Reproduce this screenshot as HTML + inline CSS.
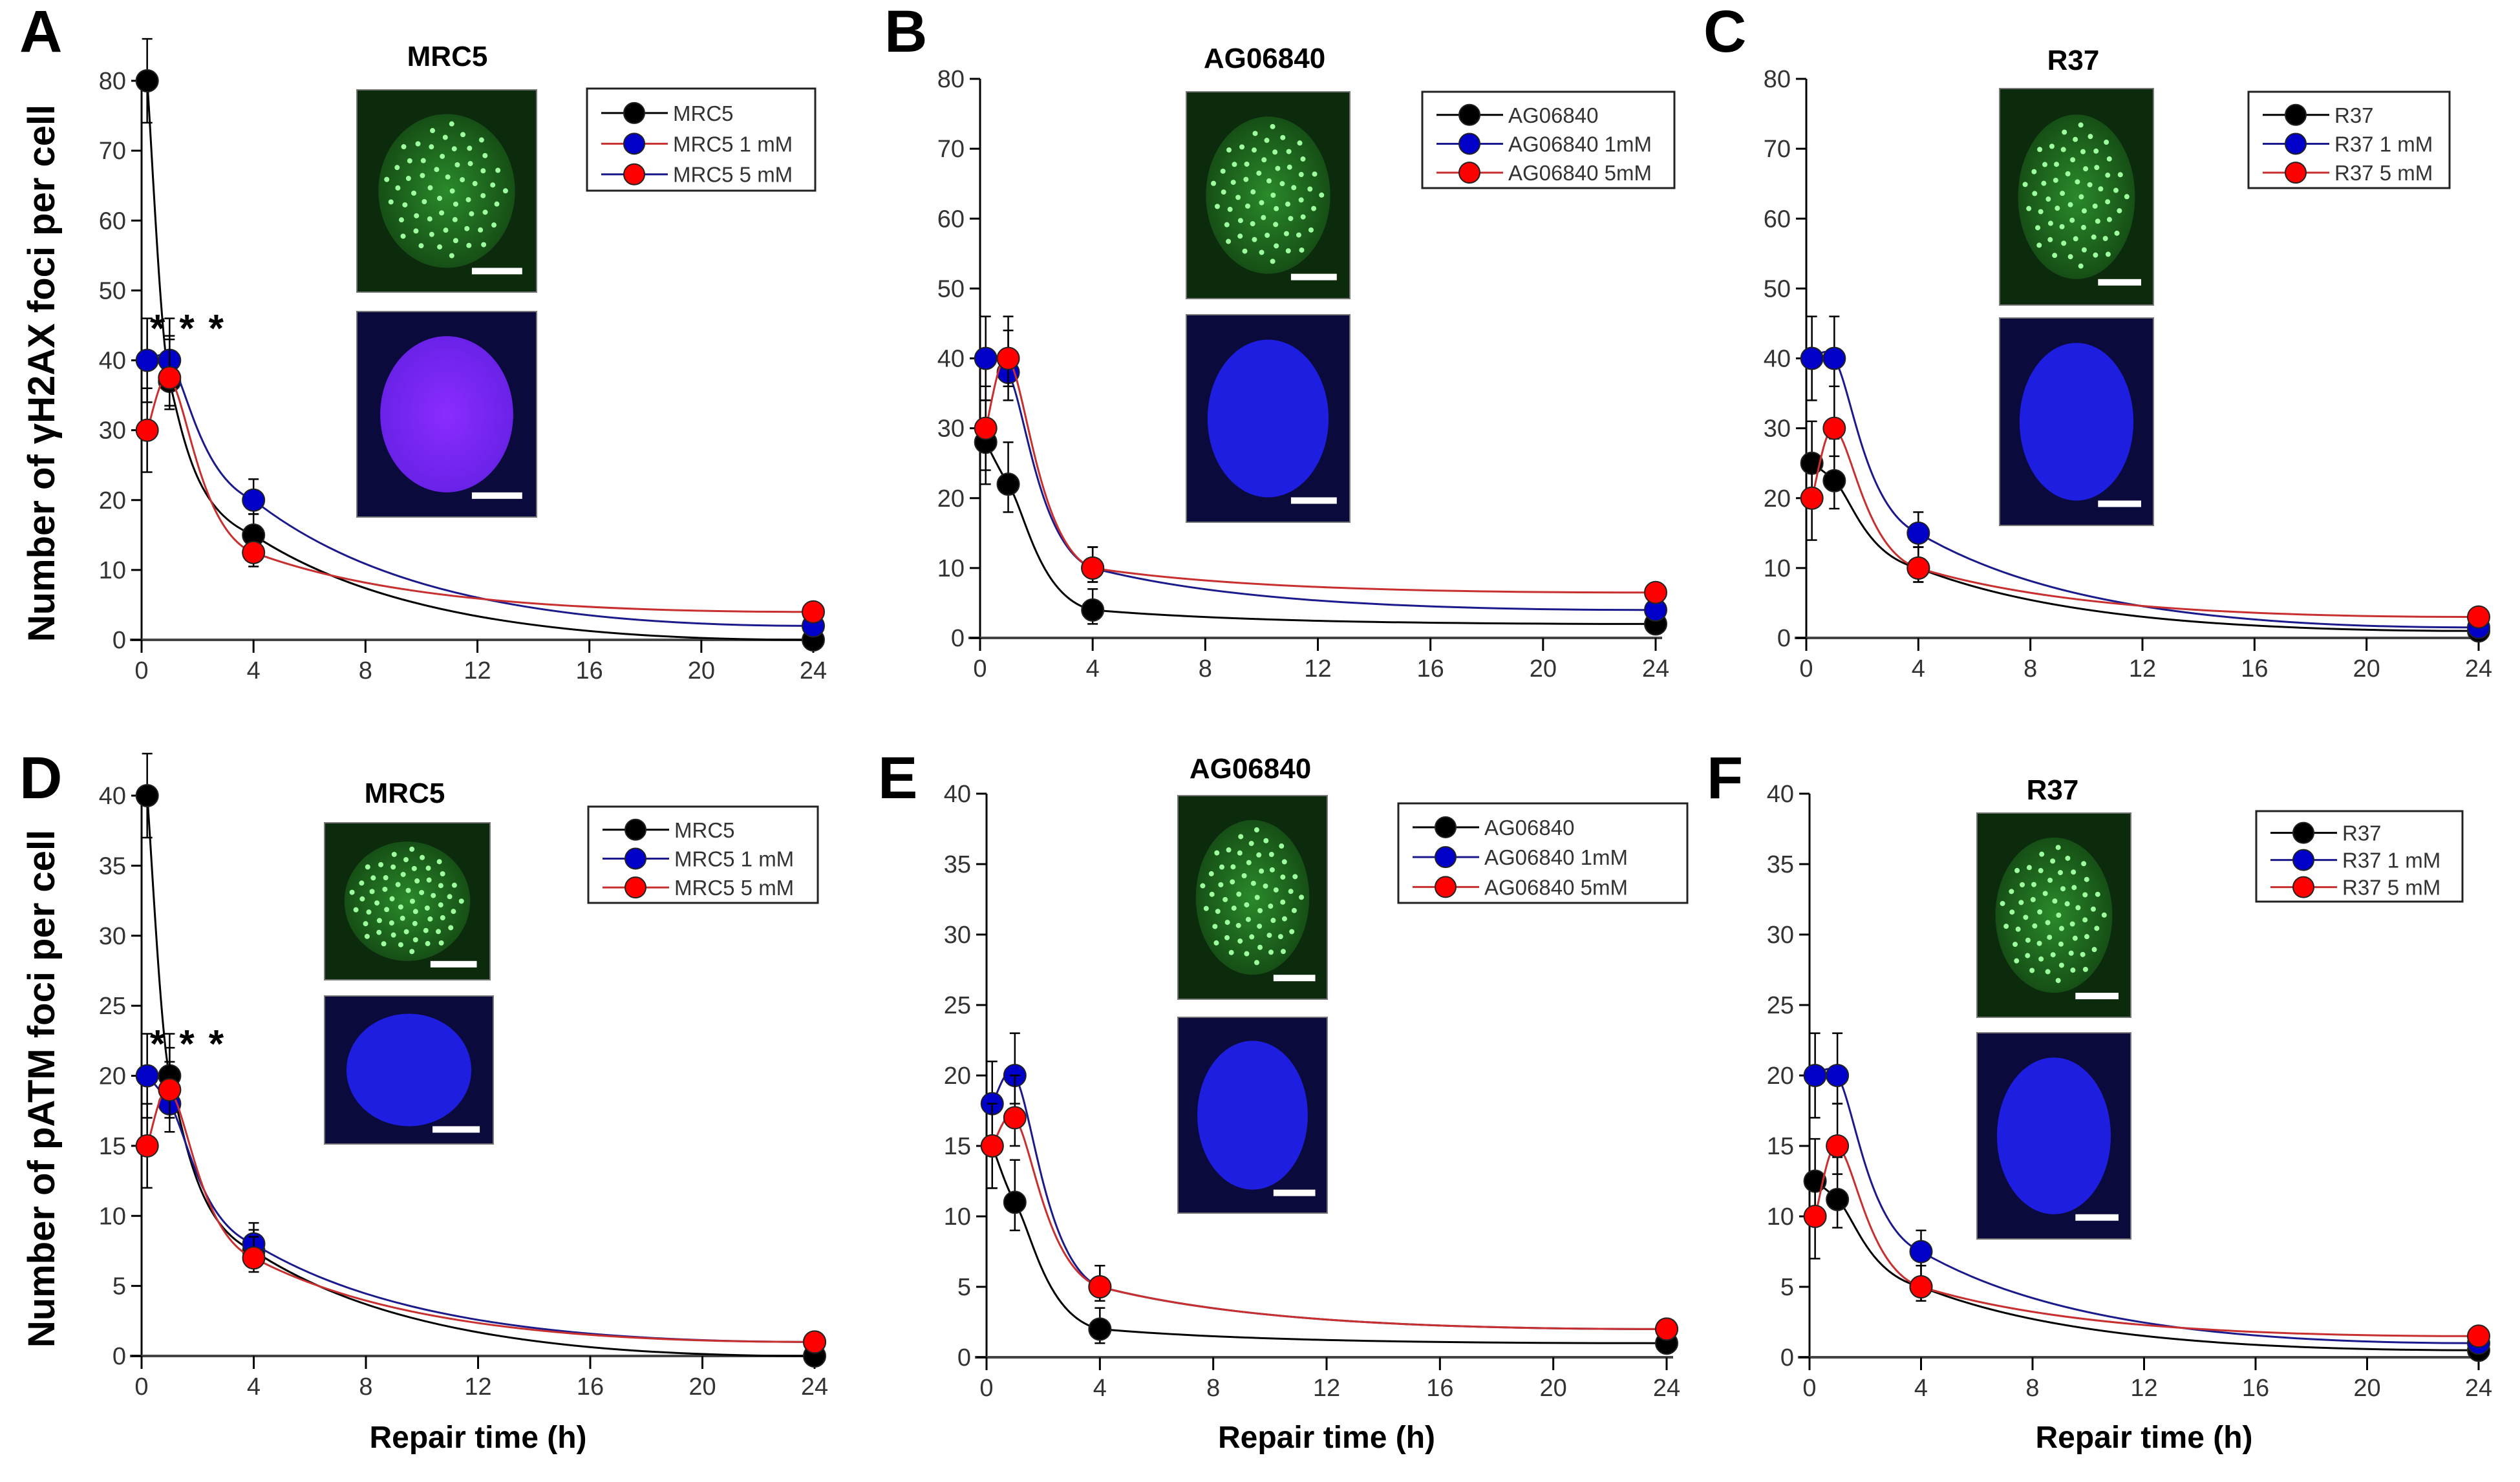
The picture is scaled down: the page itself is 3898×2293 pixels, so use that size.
<!DOCTYPE html>
<html><head><meta charset="utf-8"><style>
html,body{margin:0;padding:0;background:#fff}
svg{display:block}
text{font-family:"Liberation Sans",sans-serif}
</style></head><body>
<svg id="fig" width="3898" height="2293" viewBox="0 0 3898 2293" xmlns="http://www.w3.org/2000/svg">
<defs>
<radialGradient id="gA" cx="50%" cy="50%" r="50%"><stop offset="0" stop-color="#2a8a2a"/><stop offset="1" stop-color="#164f16"/></radialGradient>
<radialGradient id="bP" cx="50%" cy="50%" r="50%"><stop offset="0" stop-color="#8a2cff"/><stop offset="1" stop-color="#6a22e8"/></radialGradient>
</defs>
</svg>
<script>
// ---- data ----
const times = [0.2, 1, 4, 24];
const seriesNames = ["black","blue","red"];
const A_black=[80,37,15,0], A_blue=[40,40,20,2], A_red=[30,37.5,12.5,4];
const B_black=[28,22,4,2], B_blue=[40,38,10,4], B_red=[30,40,10,6.5];
const C_black=[25,22.5,10,1], C_blue=[40,40,15,1.5], C_red=[20,30,10,3];
const D_black=[40,20,7.5,0], D_blue=[20,18,8,1], D_red=[15,19,7,1];
const E_black=[15,11,2,1], E_blue=[18,20,5,2], E_red=[15,17,5,2];
const F_black=[12.5,11.2,5,0.5], F_blue=[20,20,7.5,1], F_red=[10,15,5,1.5];
const errTop=[6,6,3,0.5], errBot=[6,4,2,0.5];
const xTicks=[0,4,8,12,16,20,24];
const yTicksTop=[0,10,20,30,40,50,60,70,80];
const yTicksBot=[0,5,10,15,20,25,30,35,40];

const colors={black:"#000",blue:"#0000c8",red:"#ff0000"};
const lineCol={black:"#000",blue:"#1a1a8c",red:"#c83030"};
const svg=document.getElementById('fig');
const NS="http://www.w3.org/2000/svg";
function mk(tag,attrs,parent){const e=document.createElementNS(NS,tag);for(const k in attrs)e.setAttribute(k,attrs[k]);(parent||svg).appendChild(e);return e;}

const panels=[
 {id:"A",x0:219,x24:1258,y0:990,yT:125,ymax:80,ticks:yTicksTop,data:[A_black,A_blue,A_red],cell:"MRC5",leg:["MRC5","MRC5 1 mM"," MRC5 5 mM"],
  title:[692,86],g:[552,139,830,452],b:[552,482,830,800],purple:true,lb:[908,137,1261,295],stars:true,ylab:"Number of γH2AX foci per cell",letter:[30,80]},
 {id:"B",x0:1516,x24:2561,y0:987,yT:122,ymax:80,ticks:yTicksTop,data:[B_black,B_blue,B_red],cell:"AG06840",leg:["AG06840","AG06840 1mM","AG06840 5mM"],
  title:[1956,89],g:[1835,142,2088,462],b:[1835,487,2088,808],lb:[2200,142,2590,291],letter:[1368,80]},
 {id:"C",x0:2794,x24:3834,y0:987,yT:122,ymax:80,ticks:yTicksTop,data:[C_black,C_blue,C_red],cell:"R37",leg:["R37","R37 1 mM","R37 5 mM"],
  title:[3207,92],g:[3093,137,3331,472],b:[3093,492,3331,813],lb:[3478,142,3789,291],letter:[2635,80]},
 {id:"D",x0:219,x24:1260,y0:2098,yT:1231,ymax:40,ticks:yTicksBot,data:[D_black,D_blue,D_red],cell:"MRC5",leg:["MRC5","MRC5 1 mM"," MRC5 5 mM"],
  title:[626,1226],g:[502,1273,758,1516],b:[502,1541,763,1770],lb:[910,1248,1265,1397],stars:true,ylab:"Number of pATM foci per cell",letter:[30,1235],xlab:true},
 {id:"E",x0:1526,x24:2578,y0:2100,yT:1228,ymax:40,ticks:yTicksBot,data:[E_black,E_blue,E_red],cell:"AG06840",leg:["AG06840","AG06840  1mM","AG06840  5mM"],
  title:[1934,1188],g:[1822,1231,2053,1546],b:[1822,1574,2053,1877],lb:[2163,1243,2610,1397],letter:[1358,1235],xlab:true},
 {id:"F",x0:2799,x24:3834,y0:2100,yT:1228,ymax:40,ticks:yTicksBot,data:[F_black,F_blue,F_red],cell:"R37",leg:["R37","R37 1 mM","R37 5 mM"],
  title:[3175,1221],g:[3058,1258,3296,1574],b:[3058,1598,3296,1917],lb:[3490,1255,3809,1395],letter:[2640,1235],xlab:true}
];

panels.forEach(p=>{
  const G=mk('g',{});
  
  
  const X=t=>p.x0+(p.x24-p.x0)*t/24;
  const Y=v=>p.y0-(p.y0-p.yT)*v/p.ymax;
  const L=mk('text',{x:p.letter[0],y:p.letter[1],'font-size':92,'font-weight':'bold'},G);L.textContent=p.id;
  
  
  const ax=mk('g',{},G);
  
  
  mk('line',{x1:p.x0,y1:p.y0+18,x2:p.x0,y2:p.yT,stroke:'#000','stroke-width':3},ax);
  mk('line',{x1:p.x0-18,y1:p.y0,x2:p.x24+10,y2:p.y0,stroke:'#444','stroke-width':4},ax);
  p.ticks.forEach(v=>{
    mk('line',{x1:p.x0-16,y1:Y(v),x2:p.x0,y2:Y(v),stroke:'#000','stroke-width':3},ax);
    const t=mk('text',{x:p.x0-24,y:Y(v)+13,'font-size':38,'text-anchor':'end',fill:'#333'},ax);t.textContent=v;
    
    
  });
  xTicks.forEach(v=>{
    mk('line',{x1:X(v),y1:p.y0,x2:X(v),y2:p.y0+20,stroke:'#000','stroke-width':3},ax);
    const t=mk('text',{x:X(v),y:p.y0+60,'font-size':38,'text-anchor':'middle',fill:'#333'},ax);t.textContent=v;
    
    
  });
  if(p.ylab){
    const cy=(p.y0+p.yT)/2+20;
    const t=mk('text',{x:84,y:cy,'font-size':58,'font-weight':'bold','text-anchor':'middle',transform:`rotate(-90 84 ${cy})`},G);t.textContent=p.ylab;
    
    
  }
  if(p.xlab){
    const t=mk('text',{x:(p.x0+p.x24)/2,y:2240,'font-size':48,'font-weight':'bold','text-anchor':'middle'},G);t.textContent="Repair time (h)";
    
    
  }
  const im=mk('g',{},G);
  
  
  const [gx1,gy1,gx2,gy2]=p.g;
  mk('rect',{x:gx1,y:gy1,width:gx2-gx1,height:gy2-gy1,fill:'#0c2a0c',stroke:'#777','stroke-width':2},im);
  mk('ellipse',{cx:(gx1+gx2)/2,cy:(gy1+gy2)/2,rx:(gx2-gx1)*0.38,ry:(gy2-gy1)*0.38,fill:'url(#gA)'},im);
  for(let i=0;i<60;i++){
    const a=i*2.399,r=Math.sqrt((i+0.5)/60)*0.34;
    mk('circle',{cx:(gx1+gx2)/2+Math.cos(a)*r*(gx2-gx1),cy:(gy1+gy2)/2+Math.sin(a)*r*(gy2-gy1),r:4,fill:'#9dff9d'},im);
  }
  mk('rect',{x:gx2-(gx2-gx1)*0.36,y:gy2-(gy2-gy1)*0.12,width:(gx2-gx1)*0.28,height:10,fill:'#fff'},im);
  const [bx1,by1,bx2,by2]=p.b;
  mk('rect',{x:bx1,y:by1,width:bx2-bx1,height:by2-by1,fill:'#0a0a3c',stroke:'#777','stroke-width':2},im);
  mk('ellipse',{cx:(bx1+bx2)/2,cy:(by1+by2)/2,rx:(bx2-bx1)*0.37,ry:(by2-by1)*0.38,fill:p.purple?'url(#bP)':'#1e1ee0'},im);
  mk('rect',{x:bx2-(bx2-bx1)*0.36,y:by2-(by2-by1)*0.12,width:(bx2-bx1)*0.28,height:10,fill:'#fff'},im);
  const tt=mk('text',{x:p.title[0],y:p.title[1]+16,'font-size':44,'font-weight':'bold','text-anchor':'middle'},G);tt.textContent=p.cell;
  
  
  p.data.forEach((vals,si)=>{
    const name=seriesNames[si];
    const sg=mk('g',{},G);
    
    
    const pts=times.map((t,i)=>[X(t),Y(vals[i])]);
    let d=`M${pts[0][0]},${pts[0][1]}`;
    for(let i=0;i<2;i++){
      const p0=pts[Math.max(0,i-1)],p1=pts[i],p2=pts[i+1],p3=pts[i+2];
      const c1=[p1[0]+(p2[0]-p0[0])/6,p1[1]+(p2[1]-p0[1])/6];
      const c2=[p2[0]-(p3[0]-p1[0])/12,p2[1]-(p3[1]-p1[1])/12];
      d+=` C${c1[0]},${c1[1]} ${c2[0]},${c2[1]} ${p2[0]},${p2[1]}`;
    }
    const y4=vals[2],y24=vals[3];
    d+=` C${X(8)},${Y(y24+(y4-y24)*0.3)} ${X(14)},${Y(y24)} ${pts[3][0]},${pts[3][1]}`;
    mk('path',{d:d,fill:'none',stroke:lineCol[name],'stroke-width':3},sg);
    times.forEach((t,i)=>{
      const v=vals[i];
      if(i<3){
        const sc=p.ymax/80;
        const e=mk('path',{d:`M${X(t)},${Y(v+errTop[i]*sc)}V${Y(Math.max(0,v-errBot[i]*sc))}M${X(t)-8},${Y(v+errTop[i]*sc)}h16M${X(t)-8},${Y(Math.max(0,v-errBot[i]*sc))}h16`,stroke:'#000','stroke-width':2.5,fill:'none'},sg);
        
        
      }
      const c=mk('circle',{cx:X(t),cy:Y(v),r:17,fill:colors[name],stroke:'#222','stroke-width':2},sg);
      
      
    });
  });
  if(p.stars){
    const s=mk('text',{x:X(0.3),y:Y(p.ymax*0.575)+36,'font-size':60,'font-weight':'bold','letter-spacing':22},G);s.textContent="***";
    
    
  }
  const lg=mk('g',{},G);
  
  
  const [lx1,ly1,lx2,ly2]=p.lb;
  mk('rect',{x:lx1,y:ly1,width:lx2-lx1,height:ly2-ly1,fill:'#fff',stroke:'#222','stroke-width':3},lg);
  const lineMap=p.id==="A"?["black","red","blue"]:["black","blue","red"];
  seriesNames.forEach((n,i)=>{
    const ey=ly1+(ly2-ly1)*(0.24+0.3*i);
    const ent=mk('g',{},lg);
    
    
    mk('line',{x1:lx1+22,y1:ey,x2:lx1+125,y2:ey,stroke:lineCol[lineMap[i]],'stroke-width':3},ent);
    mk('circle',{cx:lx1+73,cy:ey,r:16,fill:colors[n],stroke:'#222','stroke-width':2},ent);
    const t=mk('text',{x:lx1+133,y:ey+12,'font-size':33,fill:'#333'},ent);t.textContent=p.leg[i];
  });
});
</script>
</body></html>
